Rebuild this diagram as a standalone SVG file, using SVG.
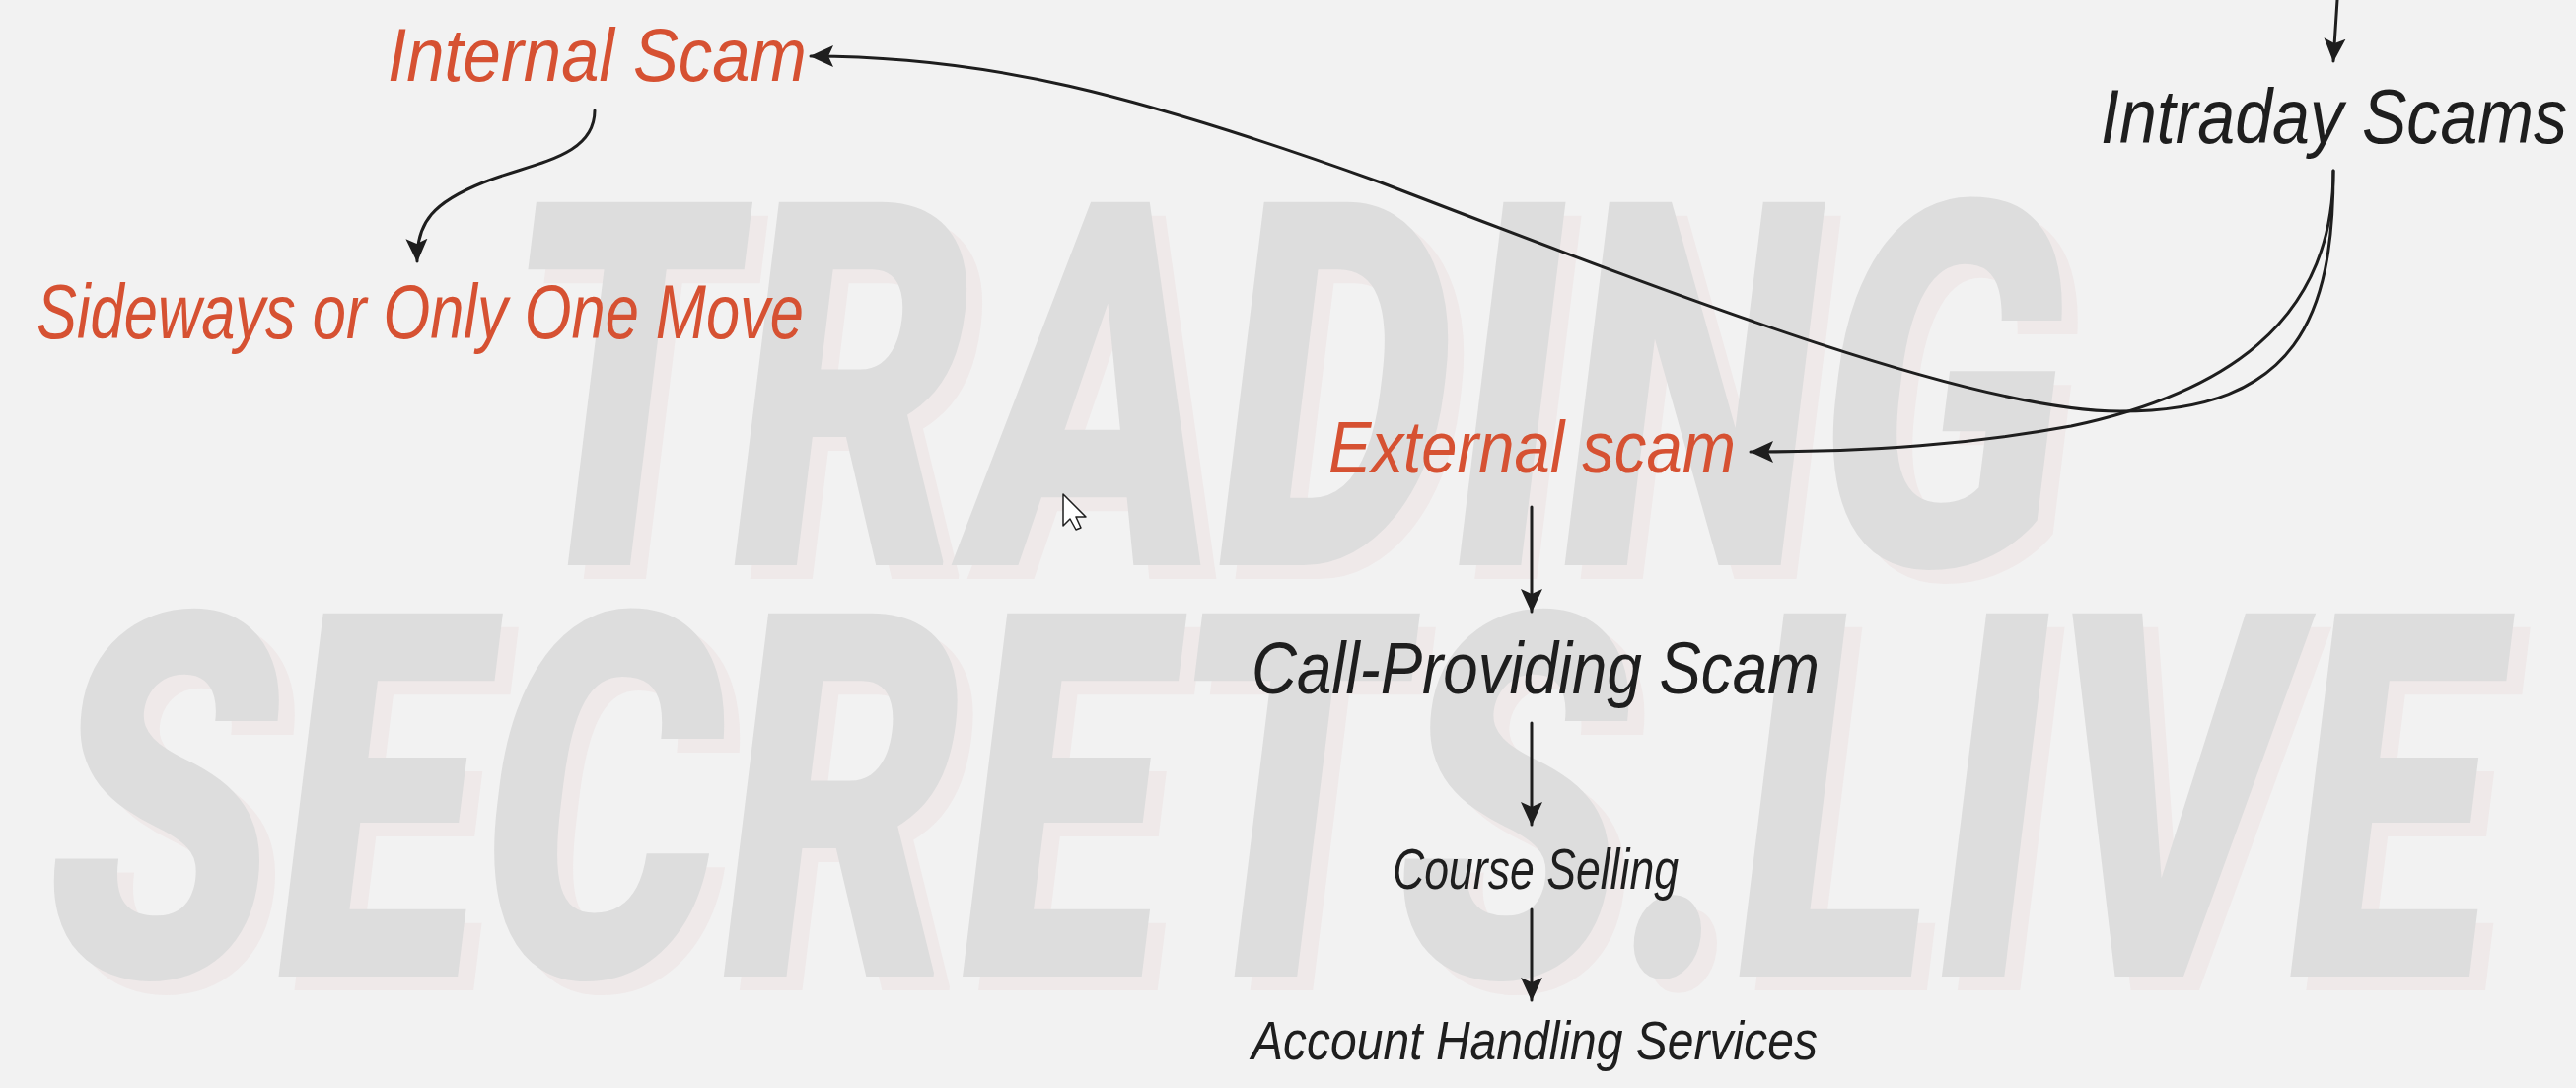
<svg xmlns="http://www.w3.org/2000/svg" width="2612" height="1103" viewBox="0 0 2612 1103">
<style>
.wm{font-family:Roboto,"Liberation Sans",sans-serif;font-weight:900;font-size:518px}
.wm-main{fill:#dddddd}
.wm-shadow{fill:#efe9e9}
.lbl{font-family:"Liberation Sans",Arial,sans-serif;font-style:italic}
.red{fill:#d65132}
.blk{fill:#1e1e1e}
.conn{fill:none;stroke:#1e1e1e;stroke-width:3;stroke-linecap:round}
</style>
<defs>
<marker id="ah" viewBox="0 0 24 24" markerWidth="24" markerHeight="24" refX="23" refY="12" orient="auto" markerUnits="userSpaceOnUse">
<path d="M0,1 L24,12 L0,23 L5,12 Z" fill="#1e1e1e"/>
</marker>
</defs>
<rect x="0" y="0" width="2612" height="1103" fill="#f2f2f2"/>
<g id="watermark">
<g transform="translate(16,587) skewX(-7)"><text class="wm wm-shadow" x="492" y="0" textLength="1585" lengthAdjust="spacingAndGlyphs">TRADING</text></g>
<g transform="translate(16,1004) skewX(-7)"><text class="wm wm-shadow" x="30" y="0" textLength="2480" lengthAdjust="spacingAndGlyphs">SECRETS.LIVE</text></g>
<g transform="translate(0,573) skewX(-7)"><text class="wm wm-main" x="492" y="0" textLength="1585" lengthAdjust="spacingAndGlyphs">TRADING</text></g>
<g transform="translate(0,990) skewX(-7)"><text class="wm wm-main" x="30" y="0" textLength="2480" lengthAdjust="spacingAndGlyphs">SECRETS.LIVE</text></g>
</g>
<g id="connectors">
<path class="conn" d="M2370,0 L2366,62" marker-end="url(#ah)"/>
<path class="conn" d="M2366,173 C2366,320 2330,417 2150,417 C2000,417 1700,300 1400,185 C1150,95 1000,57 822,57" marker-end="url(#ah)"/>
<path class="conn" d="M2366,173 C2366,330 2250,400 2100,432 C2000,450 1900,458 1775,458" marker-end="url(#ah)"/>
<path class="conn" d="M603,112 C603,160 540,165 490,185 C440,205 422,225 423,265" marker-end="url(#ah)"/>
<path class="conn" d="M1553,514 L1553,620" marker-end="url(#ah)"/>
<path class="conn" d="M1553,733 L1553,836" marker-end="url(#ah)"/>
<path class="conn" d="M1553,922 L1553,1014" marker-end="url(#ah)"/>
</g>
<g id="node-internal-scam"><text class="lbl red" x="393" y="82" font-size="76" textLength="425" lengthAdjust="spacingAndGlyphs">Internal Scam</text></g>
<g id="node-sideways"><text class="lbl red" x="37" y="343" font-size="78" textLength="778" lengthAdjust="spacingAndGlyphs">Sideways or Only One Move</text></g>
<g id="node-intraday-scams"><text class="lbl blk" x="2130" y="145" font-size="78" textLength="473" lengthAdjust="spacingAndGlyphs">Intraday Scams</text></g>
<g id="node-external-scam"><text class="lbl red" x="1347" y="479" font-size="74" textLength="413" lengthAdjust="spacingAndGlyphs">External scam</text></g>
<g id="node-call-providing"><text class="lbl blk" x="1269" y="703" font-size="74" textLength="576" lengthAdjust="spacingAndGlyphs">Call-Providing Scam</text></g>
<g id="node-course-selling"><text class="lbl blk" x="1412" y="901" font-size="58" textLength="290" lengthAdjust="spacingAndGlyphs">Course Selling</text></g>
<g id="node-account-handling"><text class="lbl blk" x="1269" y="1074" font-size="55" textLength="574" lengthAdjust="spacingAndGlyphs">Account Handling Services</text></g>
<g id="cursor"><polygon points="1078,501 1078,533 1085,526 1091,537 1096,535 1091,524 1101,524" fill="#ffffff" stroke="#1e1e1e" stroke-width="1.5" stroke-linejoin="round"/></g>
</svg>
